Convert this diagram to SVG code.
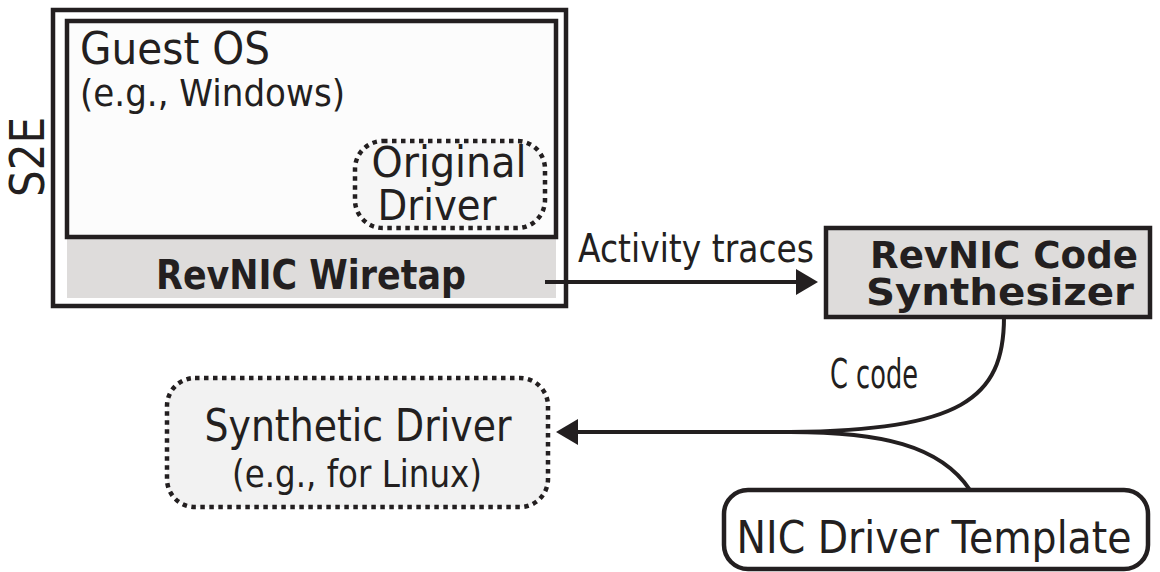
<svg xmlns="http://www.w3.org/2000/svg" width="1160" height="572" viewBox="0 0 1160 572">
<style>
text{font-family:"DejaVu Sans","Liberation Sans",sans-serif;fill:#231f20}
.b{font-weight:bold}
.box{stroke:#231f20;stroke-width:4.5}
.dot{stroke:#231f20;stroke-width:4.5;stroke-dasharray:4.5 4.5}
.con{stroke:#231f20;stroke-width:4;fill:none}
.ah{fill:#231f20}
</style>
<rect width="1160" height="572" fill="#fff"/>
<g id="s2e">
<rect x="53" y="10" width="513" height="296" class="box" style="fill:#fff"/>
<text transform="translate(44,157) rotate(-90)" text-anchor="middle" font-size="48" textLength="80" lengthAdjust="spacingAndGlyphs">S2E</text>
</g>
<g id="guest-os">
<rect x="67" y="237" width="489" height="61" style="fill:#dedcdb"/>
<rect x="67" y="21" width="489" height="216" class="box" style="fill:#fcfcfc"/>
<text x="80" y="64" font-size="45" textLength="190" lengthAdjust="spacingAndGlyphs">Guest OS</text>
<text x="80" y="106" font-size="38" textLength="265" lengthAdjust="spacingAndGlyphs">(e.g., Windows)</text>
</g>
<g id="original-driver">
<rect x="355" y="141" width="190" height="87" rx="28" class="dot" style="fill:#f6f6f6"/>
<text x="449" y="177" text-anchor="middle" font-size="42" textLength="155" lengthAdjust="spacingAndGlyphs">Original</text>
<text x="437" y="220" text-anchor="middle" font-size="42" textLength="119" lengthAdjust="spacingAndGlyphs">Driver</text>
</g>
<g id="wiretap">
<text x="311" y="289" text-anchor="middle" font-size="41" class="b" textLength="310" lengthAdjust="spacingAndGlyphs">RevNIC Wiretap</text>
</g>
<g id="synthesizer">
<rect x="826" y="228" width="324" height="89" class="box" style="fill:#dedcdb"/>
<text x="1004" y="268" text-anchor="middle" font-size="38" class="b" textLength="268" lengthAdjust="spacingAndGlyphs">RevNIC Code</text>
<text x="1000" y="305" text-anchor="middle" font-size="38" class="b" textLength="268" lengthAdjust="spacingAndGlyphs">Synthesizer</text>
</g>
<g id="synthetic-driver">
<rect x="167" y="378" width="381" height="129" rx="28" class="dot" style="fill:#f2f2f2"/>
<text x="358" y="441" text-anchor="middle" font-size="45" textLength="307" lengthAdjust="spacingAndGlyphs">Synthetic Driver</text>
<text x="357" y="487" text-anchor="middle" font-size="37" textLength="250" lengthAdjust="spacingAndGlyphs">(e.g., for Linux)</text>
</g>
<g id="template">
<rect x="724" y="490" width="424" height="79" rx="24" class="box" style="fill:#fff"/>
<text x="934" y="553" text-anchor="middle" font-size="44" textLength="395" lengthAdjust="spacingAndGlyphs">NIC Driver Template</text>
</g>
<g id="connectors">
<path class="con" d="M545 282 H800"/>
<polygon class="ah" points="818,282 796,269 796,295"/>
<text x="696" y="262" text-anchor="middle" font-size="39" textLength="236" lengthAdjust="spacingAndGlyphs">Activity traces</text>
<path class="con" d="M1004 317 C1004 400 960 430 790 432 H575"/>
<path class="con" d="M970 490 C940 445 880 432 790 432"/>
<polygon class="ah" points="556,432 578,419 578,445"/>
<text x="874" y="388" text-anchor="middle" font-size="40" textLength="88" lengthAdjust="spacingAndGlyphs">C code</text>
</g>
</svg>
